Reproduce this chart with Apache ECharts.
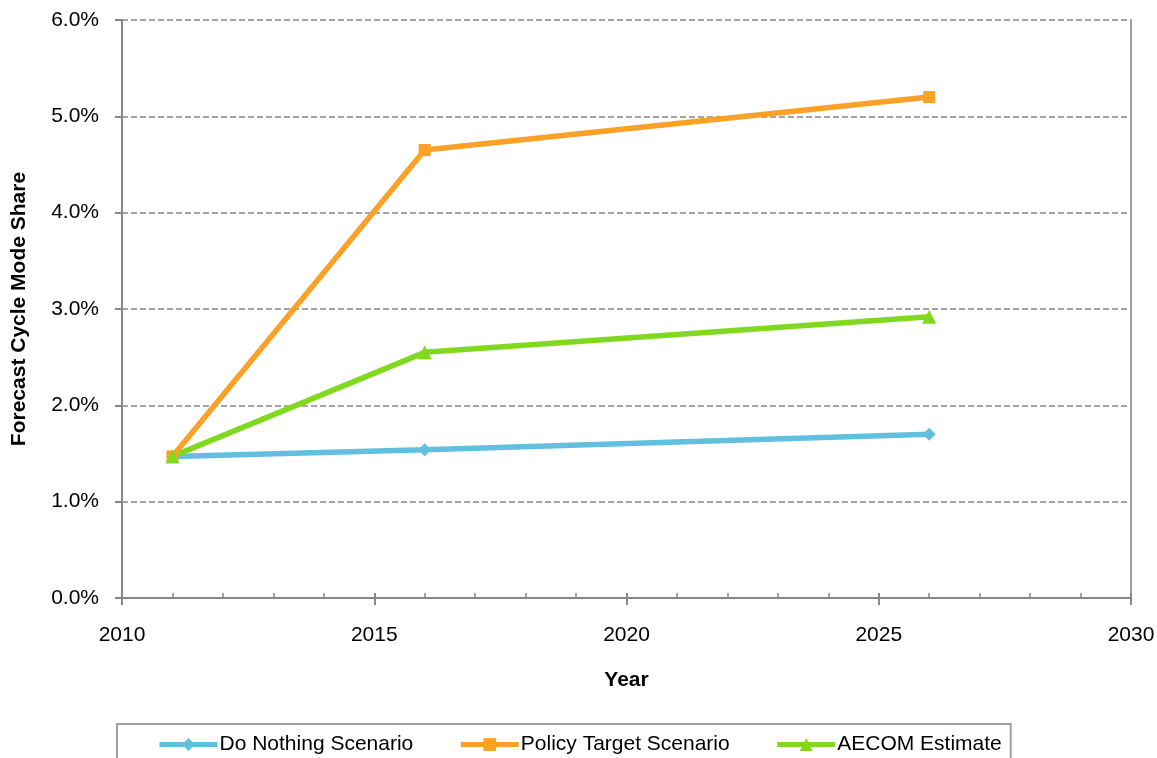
<!DOCTYPE html>
<html>
<head>
<meta charset="utf-8">
<script src="https://cdn.jsdelivr.net/npm/echarts@6/dist/echarts.min.js"></script>
<style>html,body{margin:0;padding:0;background:#fff;}#c{width:1157px;height:758px;}</style>
</head>
<body>
<div id="c"></div>
<script>
var years = [2011, 2016, 2026];
var doNothing = [1.47, 1.54, 1.70];
var policyTarget = [1.47, 4.65, 5.20];
var aecomEstimate = [1.47, 2.55, 2.92];
var seriesNames = ['Do Nothing Scenario', 'Policy Target Scenario', 'AECOM Estimate'];
var yTickLabels = ['0.0%', '1.0%', '2.0%', '3.0%', '4.0%', '5.0%', '6.0%'];

function pairs(vals) { return years.map(function (y, i) { return [y, vals[i]]; }); }

var chart = echarts.init(document.getElementById('c'));
var font = 'Liberation Sans, Arial, sans-serif';
var axisGray = '#878787';
chart.setOption({
  animation: false,
  backgroundColor: '#fff',
  grid: { left: 122, right: 26, top: 20, bottom: 160, containLabel: false, outerBoundsMode: 'none' },
  xAxis: [{
    type: 'value', min: 2010, max: 2030, interval: 5,
    name: 'Year', nameLocation: 'middle', nameGap: 72,
    nameTextStyle: { fontFamily: font, fontSize: 21, fontWeight: 'bold', color: '#000' },
    axisLine: { show: true, lineStyle: { color: axisGray, width: 2 } },
    axisTick: { show: true, inside: false, length: 7, lineStyle: { color: axisGray, width: 2 } },
    axisLabel: { fontFamily: font, fontSize: 21, color: '#000', margin: 27,
      formatter: function (v) { return String(v); } },
    splitLine: { show: false }
  }, {
    type: 'value', min: 2010, max: 2030, interval: 5, position: 'bottom',
    axisLine: { show: false },
    axisTick: { show: true, inside: true, length: 5, lineStyle: { color: axisGray, width: 2 } },
    minorTick: { show: true, splitNumber: 5, length: 5, lineStyle: { color: axisGray, width: 1.5 } },
    axisLabel: { show: false },
    splitLine: { show: false }
  }],
  yAxis: [{
    type: 'value', min: 0, max: 6, interval: 1,
    name: 'Forecast Cycle Mode Share', nameLocation: 'middle', nameGap: 92,
    nameTextStyle: { fontFamily: font, fontSize: 21, fontWeight: 'bold', color: '#000' },
    axisLine: { show: true, lineStyle: { color: axisGray, width: 2 } },
    axisTick: { show: true, inside: false, length: 7, lineStyle: { color: axisGray, width: 2 } },
    axisLabel: { fontFamily: font, fontSize: 21, color: '#000', margin: 23,
      formatter: function (v) { return yTickLabels[Math.round(v)]; } },
    splitLine: { show: true, lineStyle: { color: axisGray, width: 1.5, type: [6, 3] } }
  }, {
    type: 'value', min: 0, max: 6, interval: 1, position: 'right',
    axisLine: { show: true, lineStyle: { color: '#a0a0a0', width: 2 } },
    axisTick: { show: false }, axisLabel: { show: false }, splitLine: { show: false }
  }],
  legend: {
    left: 117, top: 724,
    padding: [10, 9, 14, 40],
    itemGap: 45, itemWidth: 58, itemHeight: 16,
    borderColor: '#a0a0a0', borderWidth: 2,
    lineStyle: { width: 5 },
    textStyle: { fontFamily: font, fontSize: 21, color: '#000', padding: [0, 0, 0, -3] },
    data: seriesNames
  },
  series: [{
    name: seriesNames[0], type: 'line', data: pairs(doNothing),
    symbol: 'diamond', symbolSize: 13,
    itemStyle: { color: '#62BFDF' }, lineStyle: { color: '#62BFDF', width: 5.5 }
  }, {
    name: seriesNames[1], type: 'line', data: pairs(policyTarget),
    symbol: 'rect', symbolSize: 12,
    itemStyle: { color: '#FBA127' }, lineStyle: { color: '#FBA127', width: 5.5 }
  }, {
    name: seriesNames[2], type: 'line', data: pairs(aecomEstimate),
    symbol: 'triangle', symbolSize: 14,
    itemStyle: { color: '#80D91F' }, lineStyle: { color: '#80D91F', width: 5.5 }
  }]
});
</script>
</body>
</html>
